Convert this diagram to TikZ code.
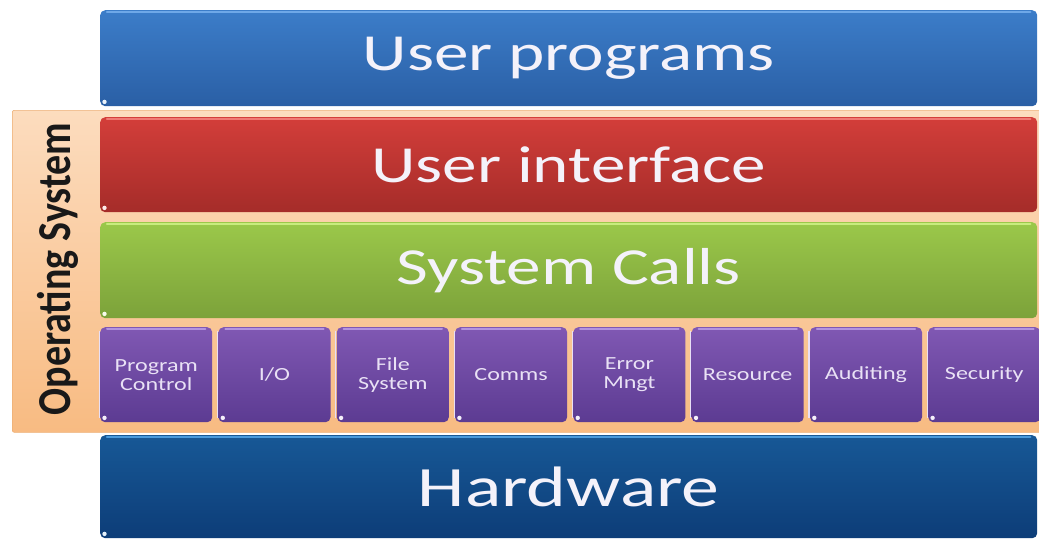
\documentclass[tikz,border=0pt]{standalone}
\usepackage{fontspec}
\setmainfont{Carlito}[FakeStretch=1.33]
\newfontfamily\smallfont{Carlito}[FakeStretch=1.3]
\newfontfamily\sidefont{Carlito}[FakeStretch=1.0]
\begin{document}
\begin{tikzpicture}[x=1pt,y=1pt]
\definecolor{upTop}{HTML}{3C7DC9}\definecolor{upBot}{HTML}{2A5FA5}\definecolor{upRim}{HTML}{6FA8E8}
\definecolor{uiTop}{HTML}{D33E3A}\definecolor{uiBot}{HTML}{A52C29}\definecolor{uiRim}{HTML}{F07A74}
\definecolor{scTop}{HTML}{9BC84A}\definecolor{scBot}{HTML}{7CA23A}\definecolor{scRim}{HTML}{C8EC7E}
\definecolor{puTop}{HTML}{8058B3}\definecolor{puBot}{HTML}{5C3B92}\definecolor{puRim}{HTML}{B394E0}
\definecolor{hwTop}{HTML}{175896}\definecolor{hwBot}{HTML}{0D3D78}\definecolor{hwRim}{HTML}{4A9BDD}
\definecolor{osTop}{HTML}{FCDCBE}\definecolor{osBot}{HTML}{F8BB82}
\definecolor{labelText}{HTML}{F4F2FA}
\definecolor{serviceText}{HTML}{E9E1F5}
\tikzset{
  layerbox/.style={rounded corners=5pt, anchor=north west, inner sep=0pt,
    minimum width=937pt, minimum height=96pt, text=labelText,
    font=\fontsize{52}{60}\selectfont},
  servicebox/.style={rounded corners=5pt, anchor=north west, inner sep=0pt,
    minimum width=112pt, minimum height=95pt, text=serviceText, align=center,
    top color=puTop, bottom color=puBot,
    font=\smallfont\fontsize{18.5}{19}\selectfont},
}
\useasboundingbox (0,0) rectangle (1039,-541);
\fill[white] (0,0) rectangle (1039,-541);

% operating system panel behind the OS layers
\node[rounded corners=2pt, anchor=north west, minimum width=1030pt, minimum height=322pt,
  inner sep=0pt, top color=osTop, bottom color=osBot, draw=osBot!80!brown, line width=0.6pt]
  (os) at (12,-110) {};
\node[rotate=90, font=\sidefont\bfseries\fontsize{40}{44}\selectfont, text=black!90] (oslabel)
  at (58,-269) {\scalebox{1}[1.18]{Operating System}};

% horizontal layers
\node[layerbox, top color=upTop, bottom color=upBot] (user) at (100,-10) {User programs};
\node[layerbox, minimum height=95pt, top color=uiTop, bottom color=uiBot] (ui) at (100,-117) {User interface};
\node[layerbox, top color=scTop, bottom color=scBot] (sc) at (100,-222) {System Calls};
\node[layerbox, minimum height=103pt, top color=hwTop, bottom color=hwBot,
  font=\fontsize{57}{64}\selectfont] (hw) at (100,-435) {Hardware};

% light rims along the top edges and corner dots
\foreach \n/\r in {user/upRim, ui/uiRim, sc/scRim, hw/hwRim}{
  \draw[\r, line width=2.2pt, line cap=round]
    ([xshift=7pt,yshift=-2pt]\n.north west) -- ([xshift=-7pt,yshift=-2pt]\n.north east);
  \fill[white!85!\r] ([shift={(4.5pt,4.5pt)}]\n.south west) circle (2.2pt);
}

% services inside the kernel
\foreach \i/\t in {1/{Program\\Control}, 2/{I/O}, 3/{File\\System}, 4/Comms,
                   5/{Error\\Mngt}, 6/Resource, 7/Auditing, 8/Security}{
  \node[servicebox] (svc\i) at ({100+(\i-1)*118.3},-327) {\t};
  \draw[puRim, line width=2pt, line cap=round]
    ([xshift=7pt,yshift=-2pt]svc\i.north west) -- ([xshift=-7pt,yshift=-2pt]svc\i.north east);
  \draw[white!70!puRim, line width=1.2pt]
    ([xshift=-0.8pt,yshift=-4pt]svc\i.north west) -- ([xshift=-0.8pt,yshift=4pt]svc\i.south west);
  \fill[white!85!puRim] ([shift={(4.5pt,4.5pt)}]svc\i.south west) circle (2.2pt);
}
\end{tikzpicture}
\end{document}
